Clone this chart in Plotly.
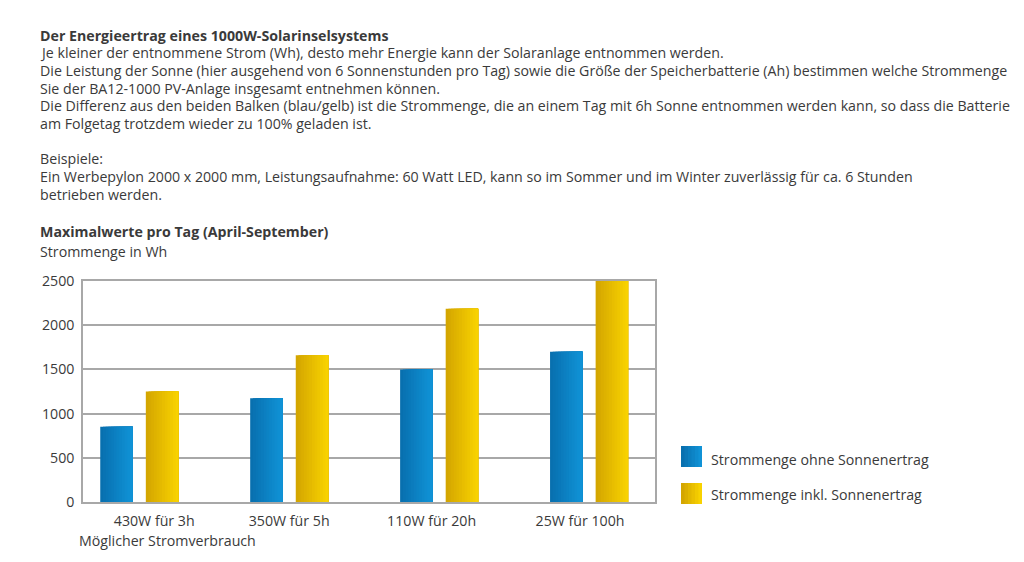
import plotly.graph_objects as go

# values (Wh per day, April-September)
kategorien = ['430W für 3h', '350W für 5h', '110W für 20h', '25W für 100h']
ohne_sonne = [850, 1175, 1500, 1700]
inkl_sonne = [1250, 1660, 2185, 2500]
y_ticks = [0, 500, 1000, 1500, 2000, 2500]

serien = [
    {'name': 'Strommenge ohne Sonnenertrag', 'y': ohne_sonne,
     'c0': (8, 112, 175), 'c1': (16, 146, 214), 'start': -0.26},
    {'name': 'Strommenge inkl. Sonnenertrag', 'y': inkl_sonne,
     'c0': (212, 166, 0), 'c1': (248, 210, 0), 'start': 0.044},
]

kopf = [
    '<b>Der Energieertrag eines 1000W-Solarinselsystems</b>',
    'Je kleiner der entnommene Strom (Wh), desto mehr Energie kann der Solaranlage entnommen werden.',
    'Die Leistung der Sonne (hier ausgehend von 6 Sonnenstunden pro Tag) sowie die Größe der Speicherbatterie (Ah) bestimmen welche Strommenge',
    'Sie der BA12-1000 PV-Anlage insgesamt entnehmen können.',
    'Die Differenz aus den beiden Balken (blau/gelb) ist die Strommenge, die an einem Tag mit 6h Sonne entnommen werden kann, so dass die Batterie',
    'am Folgetag trotzdem wieder zu 100% geladen ist.',
    '',
    'Beispiele:',
    'Ein Werbepylon 2000 x 2000 mm, Leistungsaufnahme: 60 Watt LED, kann so im Sommer und im Winter zuverlässig für ca. 6 Stunden',
    'betrieben werden.',
]

W, H = 1024, 562
OFF = 8                          # page body margin of the html page
L, R, T, B = 83, 655, 281, 502   # plot area in screen pixels
FONT = 'Open Sans'
GREY = '#3a3a3a'
FS = 14.2

def px(x):
    return (x - L) / (R - L)

def py(y):
    return (B - y) / (B - T)

def mix(c0, c1, t):
    return 'rgb(%d,%d,%d)' % tuple(round(a + (b - a) * t) for a, b in zip(c0, c1))

bar_w = 0.2165
n_strips = 12
x_idx = list(range(len(kategorien)))

fig = go.Figure()
# each bar is drawn as overlapping strips to get the left-to-right colour gradient
for s in serien:
    for k in range(n_strips):
        fig.add_trace(go.Bar(
            x=x_idx, y=s['y'], name=s['name'], showlegend=False,
            width=bar_w * (1 - k / n_strips),
            offset=s['start'] + k * bar_w / n_strips,
            marker=dict(color=mix(s['c0'], s['c1'], k / (n_strips - 1)), line_width=0),
            hoverinfo='skip' if k else 'y+name',
        ))

fig.update_layout(
    width=W, height=H,
    margin=dict(l=L - OFF, r=W - R + OFF, t=T - OFF, b=H - B + OFF),
    barmode='overlay',
    plot_bgcolor='white', paper_bgcolor='white',
    font=dict(family=FONT, size=FS, color=GREY),
    showlegend=False,
)

fig.update_xaxes(range=[-0.375, 3.44], tickvals=[0.1, 1.0, 1.95, 2.94], ticktext=kategorien,
                 showgrid=False, zeroline=False, showline=True, mirror=True,
                 linecolor='#a8a8a8', linewidth=1.5, ticks='', ticklabelstandoff=5)
fig.update_yaxes(range=[0, 2500], tickvals=y_ticks, showgrid=True, gridcolor='#a8a8a8', gridwidth=1.5,
                 zeroline=False, showline=True, mirror=True, linecolor='#a8a8a8', linewidth=1.5,
                 ticks='', ticklabelstandoff=4)

notes = [(41, 35 + i * 17.7, t) for i, t in enumerate(kopf) if t]
notes += [
    (41, 232, '<b>Maximalwerte pro Tag (April-September)</b>'),
    (41, 251, 'Strommenge in Wh'),
    (80, 540, 'Möglicher Stromverbrauch'),
    (712, 459, serien[0]['name']),
    (712, 494, serien[1]['name']),
]
for x0, y0, txt in notes:
    fig.add_annotation(x=px(x0 - 3), y=py(y0), xref='paper', yref='paper', text=txt,
                       showarrow=False, xanchor='left', yanchor='middle', align='left')

# legend squares with the same gradient as the bars
for s, (y0, y1) in zip(serien, [(446, 467), (483, 504)]):
    for k in range(6):
        fig.add_shape(type='rect', xref='paper', yref='paper',
                      x0=px(681 + k * 21 / 6), x1=px(702),
                      y0=py(y1), y1=py(y0), line_width=0, fillcolor=mix(s['c0'], s['c1'], k / 5))

fig.write_html('out.html')
